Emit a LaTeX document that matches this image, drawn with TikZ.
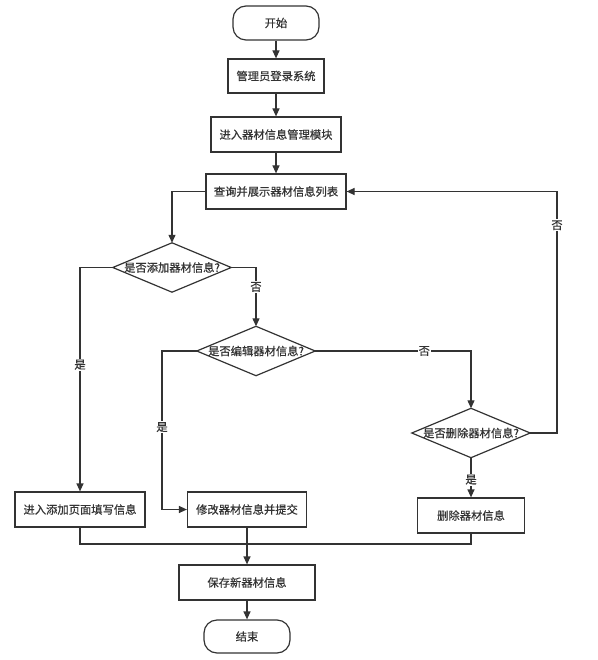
\documentclass[tikz,border=0pt]{standalone}
\usepackage{fontspec}
\setmainfont{Noto Sans CJK SC}[FakeBold=0.6]
\usetikzlibrary{arrows.meta}
\definecolor{ln}{HTML}{333333}
\begin{document}
\begin{tikzpicture}[x=1pt,y=-1pt,
  txt/.style={font=\fontsize{11.3}{13}\selectfont, text=ln},
  box/.style={txt, draw=ln, line width=1.2pt, minimum height=35pt, inner sep=0pt},
  term/.style={box, rounded corners=13pt},
  dec/.style={txt, minimum width=118pt, minimum height=49pt, inner sep=0pt},
  conn/.style={draw=ln, line width=1.2pt},
  arr/.style={conn, -{Triangle[length=8pt,width=7pt]}},
  lab/.style={txt, fill=white, inner sep=1pt}]
\useasboundingbox (0,0) rectangle (597,660);
\node[term, minimum width=86pt, minimum height=34pt] (start) at (276,23) {开始};
\node[box, minimum width=96pt, minimum height=34pt] (login) at (276,76) {管理员登录系统};
\node[box, minimum width=130pt] (module) at (276,134.5) {进入器材信息管理模块};
\node[box, minimum width=140pt] (list) at (276,191.5) {查询并展示器材信息列表};
\node[dec] (d1) at (172,267.5) {是否添加器材信息?};
\node[dec] (d2) at (256,351) {是否编辑器材信息?};
\node[dec] (d3) at (471,433) {是否删除器材信息?};
\foreach \d in {d1,d2,d3}
  \draw[conn, line join=miter] (\d.north) -- (\d.east) -- (\d.south) -- (\d.west) -- cycle;
\node[box, minimum width=130pt] (add) at (80,509.5) {进入添加页面填写信息};
\node[box, minimum width=119pt] (mod) at (247,509.5) {修改器材信息并提交};
\node[box, minimum width=107pt] (del) at (471,515.5) {删除器材信息};
\node[box, minimum width=136pt] (save) at (247,582.5) {保存新器材信息};
\node[term, minimum width=86pt, minimum height=33pt] (end) at (247,636.5) {结束};
\coordinate (c2) at (162,509.5);
\coordinate (c3) at (557,191.5);
\coordinate (mg) at (247,544);
\draw[arr] (start.south) -- (login.north);
\draw[arr] (login.south) -- (module.north);
\draw[arr] (module.south) -- (list.north);
\draw[arr] (list.west) -| (d1.north);
\draw[arr] (d1.west) -| node[lab, pos=0.717] {是} (add.north);
\draw[arr] (d1.east) -| node[lab, pos=0.665] {否} (d2.north);
\draw[arr] (d2.west) -| node[lab, pos=0.74] {是} (c2) -- (mod.west);
\draw[arr] (d2.east) -| node[lab, pos=0.35] {否} (d3.north);
\draw[arr] (d3.east) -| node[lab, pos=0.93] {否} (c3) -- (list.east);
\draw[arr] (d3.south) -- node[lab, pos=0.55] {是} (del.north);
\draw[conn] (add.south) |- (mg) -| (del.south);
\draw[arr] (mod.south) -- (save.north);
\draw[arr] (save.south) -- (end.north);
\end{tikzpicture}
\end{document}
